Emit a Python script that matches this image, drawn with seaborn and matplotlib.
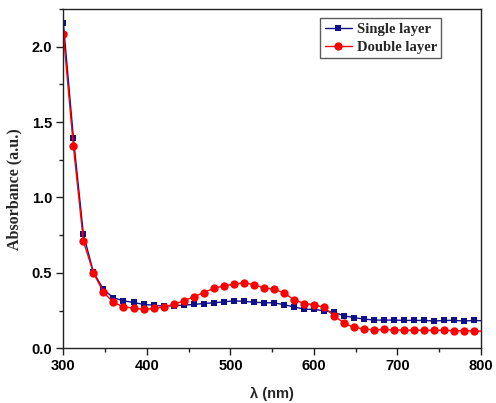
import matplotlib
matplotlib.use("Agg")
import matplotlib.pyplot as plt
from matplotlib.ticker import MultipleLocator
import seaborn as sns
import pandas as pd

# Wavelength grid (nm); markers sit on every sample except the final 800 nm end point
wavelength = [300, 312, 324, 336, 348, 360, 372, 384, 396, 408, 420, 432, 444, 456,
              468, 480, 492, 504, 516, 528, 540, 552, 564, 576, 588, 600, 612, 624,
              636, 648, 660, 672, 684, 696, 708, 720, 732, 744, 756, 768, 780, 792, 800]

single_layer = [2.156, 1.397, 0.756, 0.505, 0.390, 0.335, 0.315, 0.304, 0.291, 0.286,
                0.280, 0.282, 0.286, 0.291, 0.297, 0.302, 0.308, 0.315, 0.311, 0.306,
                0.302, 0.302, 0.289, 0.275, 0.260, 0.258, 0.249, 0.238, 0.216, 0.203,
                0.194, 0.187, 0.187, 0.187, 0.185, 0.185, 0.185, 0.181, 0.185, 0.185,
                0.181, 0.185, 0.183]

double_layer = [2.083, 1.340, 0.710, 0.500, 0.372, 0.304, 0.275, 0.267, 0.258, 0.264,
                0.275, 0.291, 0.315, 0.341, 0.370, 0.397, 0.414, 0.425, 0.436, 0.421,
                0.401, 0.392, 0.368, 0.322, 0.297, 0.289, 0.271, 0.216, 0.167, 0.139,
                0.128, 0.123, 0.125, 0.121, 0.121, 0.121, 0.119, 0.119, 0.119, 0.117,
                0.117, 0.115, 0.114]

series_names = ["Single layer", "Double layer"]
series_colors = ["#10108a", "#ff0000"]
series_markers = ["s", "o"]
series_sizes = [5.0, 6.0]

x_ticks = [300, 400, 500, 600, 700, 800]
y_ticks = [0.0, 0.5, 1.0, 1.5, 2.0]

sns.set_theme(style="ticks")
plt.rcParams["font.family"] = ["Liberation Sans", "DejaVu Sans"]

fig = plt.figure(figsize=(4.96, 4.03), dpi=100)
ax = fig.add_axes([0.1277, 0.1357, 0.8421, 0.8421])

df = pd.DataFrame({"wavelength": wavelength,
                   "Single layer": single_layer,
                   "Double layer": double_layer})

n = len(wavelength)
for name, color, marker, ms in zip(series_names, series_colors, series_markers, series_sizes):
    sns.lineplot(data=df, x="wavelength", y=name, ax=ax, color=color,
                 marker=marker, markersize=ms, markeredgewidth=0,
                 markevery=list(range(n - 1)), linewidth=1.0, label=name)

ax.set_xlim(300, 800)
ax.set_ylim(0, 2.25)
ax.set_xticks(x_ticks)
ax.set_yticks(y_ticks)
ax.set_xticklabels([f"{t:d}" for t in x_ticks])
ax.set_yticklabels([f"{t:.1f}" for t in y_ticks])
ax.xaxis.set_minor_locator(MultipleLocator(50))
ax.yaxis.set_minor_locator(MultipleLocator(0.25))

ax.tick_params(axis="both", which="major", direction="out", length=5, width=1.0,
               labelsize=10.5, colors="#222222", pad=3)
ax.tick_params(axis="both", which="minor", direction="out", length=3, width=1.0,
               colors="#222222")
for lbl in ax.get_xticklabels() + ax.get_yticklabels():
    lbl.set_fontweight("bold")
    lbl.set_color("black")

for side in ["left", "bottom", "top", "right"]:
    ax.spines[side].set_visible(True)
    ax.spines[side].set_linewidth(1.0)
    ax.spines[side].set_color("#222222")

ax.set_xlabel("λ (nm)", fontsize=10.5, fontweight="bold", labelpad=10)
ax.set_ylabel("Absorbance (a.u.)", fontsize=11.5, fontweight="bold",
              family=["Liberation Serif", "DejaVu Serif"])
ax.yaxis.set_label_coords(-0.098, 0.47)

leg = ax.legend(loc="upper right", bbox_to_anchor=(0.905, 0.972), frameon=True,
                fancybox=False, handlelength=1.9, handletextpad=0.3,
                borderpad=0.3, labelspacing=0.3, borderaxespad=0,
                prop={"family": ["Liberation Serif", "DejaVu Serif"],
                      "weight": "bold", "size": 10.5})
leg.get_frame().set_edgecolor("#333333")
leg.get_frame().set_linewidth(1.0)

fig.savefig("out.png", dpi=100, facecolor="white")
